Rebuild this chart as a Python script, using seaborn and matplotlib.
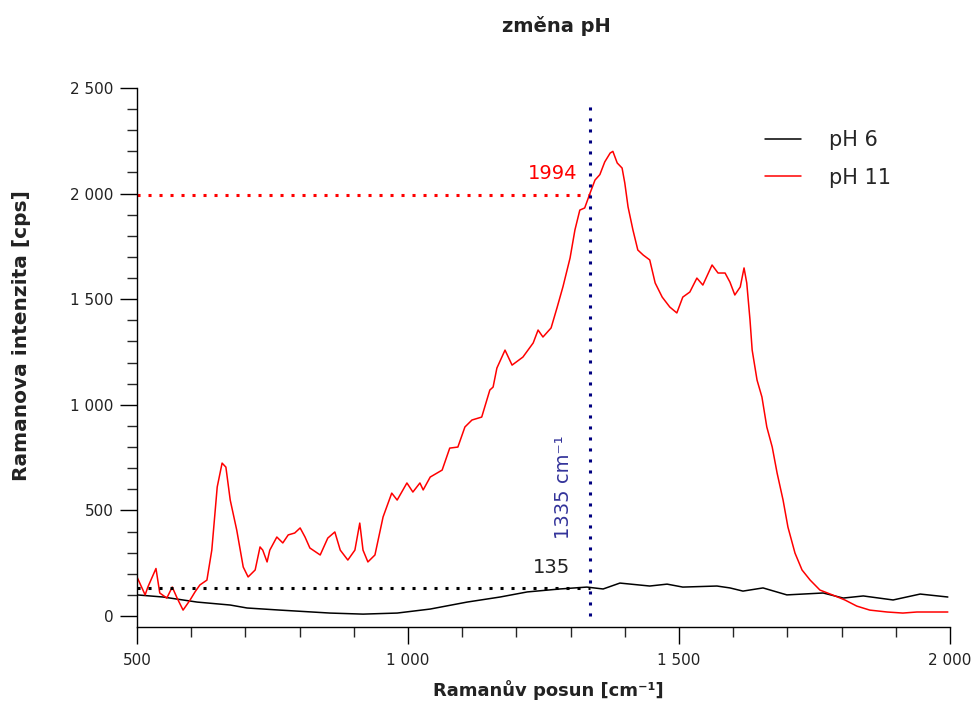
import matplotlib
matplotlib.use("Agg")
import matplotlib.pyplot as plt
import seaborn as sns
import pandas as pd
from matplotlib.ticker import MultipleLocator, FuncFormatter

# pH 11 spektrum (cerveny)
posun_ph11 = [500, 515, 520, 535, 542, 555, 565, 574, 585, 598, 607, 616, 629, 638, 648, 657, 664, 672,
              684, 696, 705, 718, 727, 732, 740, 745, 758, 769, 779, 791, 801, 810, 819, 838, 852, 865,
              875, 889, 902, 911, 917, 926, 939, 954, 970, 980, 998, 1009, 1022, 1028, 1041, 1063, 1077,
              1092, 1105, 1118, 1136, 1151, 1157, 1164, 1179, 1192, 1212, 1231, 1240, 1249, 1264, 1275,
              1286, 1299, 1308, 1317, 1326, 1336, 1345, 1354, 1363, 1373, 1378, 1386, 1395, 1400, 1406,
              1415, 1424, 1434, 1446, 1456, 1469, 1483, 1496, 1507, 1520, 1533, 1544, 1561, 1572, 1585,
              1594, 1603, 1613, 1620, 1625, 1631, 1635, 1644, 1653, 1662, 1672, 1681, 1692, 1701, 1714,
              1727, 1742, 1760, 1784, 1806, 1828, 1852, 1884, 1913, 1939, 1963, 1996]
intenzita_ph11 = [185, 100, 137, 225, 109, 85, 137, 85, 28, 76, 114, 147, 170, 312, 611, 724, 705, 549,
                  407, 232, 185, 218, 327, 312, 256, 312, 374, 346, 384, 393, 417, 374, 322, 289, 369, 398,
                  312, 265, 312, 440, 312, 256, 289, 469, 582, 549, 630, 587, 630, 597, 658, 691, 795,
                  800, 895, 928, 942, 1070, 1084, 1174, 1259, 1188, 1226, 1293, 1354, 1321, 1364, 1460,
                  1560, 1695, 1828, 1922, 1932, 2003, 2064, 2090, 2150, 2192, 2200, 2145, 2121, 2050, 1937,
                  1828, 1733, 1709, 1686, 1577, 1510, 1463, 1435, 1510, 1534, 1600, 1567, 1662, 1624, 1624,
                  1581, 1520, 1558, 1648, 1577, 1402, 1259, 1117, 1037, 895, 800, 677, 549, 421, 298,
                  218, 170, 123, 99, 76, 47, 28, 19, 14, 19, 19, 19]

# pH 6 spektrum (cerny)
posun_ph6 = [500, 548, 611, 672, 703, 764, 856, 917, 980, 1041, 1109, 1170, 1220, 1280, 1330, 1360,
             1391, 1446, 1478, 1507, 1570, 1594, 1618, 1655, 1699, 1766, 1803, 1840, 1895, 1945, 1996]
intenzita_ph6 = [100, 90, 66, 52, 38, 28, 14, 9, 14, 33, 66, 90, 114, 128, 137, 128,
                 156, 142, 151, 137, 142, 133, 118, 133, 100, 109, 85, 95, 76, 104, 90]

pas_posun = 1335
pas_ph11 = 1994
pas_ph6 = 135

df = pd.concat([
    pd.DataFrame({'posun': posun_ph6, 'intenzita': intenzita_ph6, 'vzorek': 'pH 6'}),
    pd.DataFrame({'posun': posun_ph11, 'intenzita': intenzita_ph11, 'vzorek': 'pH 11'}),
])

sns.set_style("white")
plt.rcParams['font.family'] = ['DejaVu Sans']

fig = plt.figure(figsize=(9.79, 7.02), dpi=100)
ax = fig.add_axes([137 / 979, 75 / 702, 813 / 979, 539 / 702])

sns.lineplot(data=df, x='posun', y='intenzita', hue='vzorek', estimator=None, sort=False,
             palette={'pH 6': 'black', 'pH 11': 'red'}, linewidth=1.1, ax=ax)

tecky = (0, (1, 2.6))
ax.plot([500, pas_posun], [pas_ph11, pas_ph11], color='red', lw=2.2, ls=tecky)
ax.plot([500, pas_posun], [pas_ph6, pas_ph6], color='black', lw=2.2, ls=tecky)
ax.plot([pas_posun, pas_posun], [0, 2420], color='#000080', lw=2.2, ls=tecky)

ax.text(1312, 2093, '1994', color='red', fontsize=14, ha='right', va='center')
ax.text(1299, 232, '135', color='#222222', fontsize=14, ha='right', va='center')
ax.text(1286, 611, '1335 cm⁻¹', color='#33339a', fontsize=14, rotation=90, ha='center', va='center')

ax.set_xlim(500, 2000)
ax.set_ylim(-52, 2500)
ax.xaxis.set_major_locator(MultipleLocator(500))
ax.xaxis.set_minor_locator(MultipleLocator(100))
ax.yaxis.set_major_locator(MultipleLocator(500))
ax.yaxis.set_minor_locator(MultipleLocator(100))

tisice = FuncFormatter(lambda v, p: f'{int(v):,}'.replace(',', ' '))
ax.xaxis.set_major_formatter(tisice)
ax.yaxis.set_major_formatter(tisice)
ax.tick_params(which='major', direction='out', length=12, width=1, labelsize=11, pad=5,
               bottom=True, left=True, colors='black')
ax.tick_params(which='minor', direction='out', length=7, width=1, bottom=True, left=True)
ax.tick_params(axis='y', labelcolor='#222222')
ax.tick_params(axis='x', labelcolor='#222222', pad=7)

sns.despine(ax=ax)
for s in ['left', 'bottom']:
    ax.spines[s].set_color('black')
    ax.spines[s].set_linewidth(1)

ax.set_xlabel('')
ax.set_ylabel('')
fig.text(548 / 979, 1 - 690 / 702, 'Ramanův posun [cm⁻¹]', fontsize=13, fontweight='bold',
         ha='center', va='center', color='#222222')
fig.text(22 / 979, 1 - 336 / 702, 'Ramanova intenzita [cps]', fontsize=14.5, fontweight='bold',
         rotation=90, ha='center', va='center', color='#222222')
fig.text(556 / 979, 1 - 26 / 702, 'změna pH', fontsize=14, fontweight='bold',
         ha='center', va='center', color='#222222')

ax.legend(loc='upper left', bbox_to_anchor=(765 / 979, 1 - 130 / 702), bbox_transform=fig.transFigure,
          frameon=False, fontsize=15, handlelength=1.75, handletextpad=1.3, borderpad=0,
          borderaxespad=0, labelspacing=0.85, title=None)

plt.savefig('out.png', dpi=100)
